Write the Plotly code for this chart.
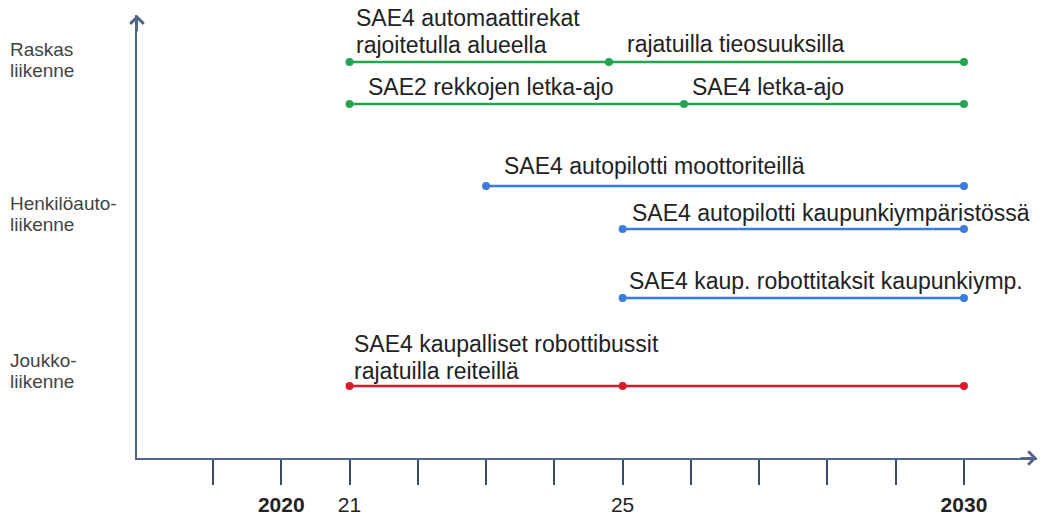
import plotly.graph_objects as go

# ---- axis ticks ----
tick_years = list(range(2019, 2031))
tick_text = ["", "<b>2020</b>", "21", "", "", "", "25", "", "", "", "", "<b>2030</b>"]

# ---- groups on the left ----
group_labels = ["Raskas<br>liikenne", "Henkilöauto-<br>liikenne", "Joukko-<br>liikenne"]
group_y = [409, 255, 98]

# ---- timeline rows (milestone years) ----
row_years = [
    [2021, 2024.8, 2030],
    [2021, 2025.9, 2030],
    [2023, 2030],
    [2025, 2030],
    [2025, 2030],
    [2021, 2025, 2030],
]
row_y = [396, 354, 272, 229, 160, 72]
row_colors = ["#25a552", "#25a552", "#3a7ddf", "#3a7ddf", "#3a7ddf", "#dc1a2c"]

# ---- milestone labels ----
label_text = [
    "SAE4 automaattirekat<br>rajoitetulla alueella",
    "rajatuilla tieosuuksilla",
    "SAE2 rekkojen letka-ajo",
    "SAE4 letka-ajo",
    "SAE4 autopilotti moottoriteillä",
    "SAE4 autopilotti kaupunkiympäristössä",
    "SAE4 kaup. robottitaksit kaupunkiymp.",
    "SAE4 kaupalliset robottibussit<br>rajatuilla reiteillä",
]
label_year = [2021, 2024.8, 2021, 2025.9, 2023, 2025, 2025, 2021]
label_row = [0, 0, 1, 1, 2, 3, 4, 5]
label_dx = [4, 16, 16, 6, 16, 7, 4, 2]
label_dy = [44, 18, 17, 17, 20, 16, 17, 42]

FONT = "Liberation Sans, Arial, sans-serif"
AXIS_COLOR = "#52668c"
LABEL_LS = 27   # line spacing of milestone labels (px)
GROUP_LS = 21   # line spacing of group labels (px)

W, H = 1043, 517
L, T, B, R = 137, 15, 59, 6
PLOT_W = W - L - R

fig = go.Figure()

for yrs, yv, col in zip(row_years, row_y, row_colors):
    fig.add_trace(go.Scatter(
        x=yrs, y=[yv] * len(yrs), mode="lines+markers",
        line=dict(color=col, width=2.5),
        marker=dict(color=col, size=8),
        cliponaxis=False, showlegend=False, hoverinfo="skip",
    ))

annotations = []
for txt, yr, r, dx, dy in zip(label_text, label_year, label_row, label_dx, label_dy):
    for i, line in enumerate(txt.split("<br>")):
        annotations.append(dict(
            x=yr, y=row_y[r], xref="x", yref="y", text=line, showarrow=False,
            xanchor="left", yanchor="middle", align="left",
            xshift=dx, yshift=dy - i * LABEL_LS,
            font=dict(family=FONT, size=23, color="#222222"),
        ))

for txt, gy in zip(group_labels, group_y):
    for i, line in enumerate(txt.split("<br>")):
        annotations.append(dict(
            x=(10 - L) / PLOT_W, y=gy, xref="paper", yref="y", text=line,
            showarrow=False, xanchor="left", yanchor="middle", align="left",
            yshift=-i * GROUP_LS, xshift=-2,
            font=dict(family=FONT, size=19, color="#444444"),
        ))

# axis arrows
annotations.append(dict(x=1, y=0, xref="paper", yref="paper", ax=-18, ay=0,
                        text="", showarrow=True, arrowhead=4, arrowsize=1.3,
                        arrowwidth=2, arrowcolor=AXIS_COLOR, standoff=0))
annotations.append(dict(x=0, y=1, xref="paper", yref="paper", ax=0, ay=18,
                        text="", showarrow=True, arrowhead=4, arrowsize=1.3,
                        arrowwidth=2, arrowcolor=AXIS_COLOR, standoff=0))

fig.update_layout(
    width=W, height=H,
    margin=dict(l=L, r=R, t=T, b=B, autoexpand=False),
    paper_bgcolor="white", plot_bgcolor="white",
    annotations=annotations,
    xaxis=dict(
        range=[2017.887, 2031.07], showgrid=False, zeroline=False,
        showline=True, linecolor=AXIS_COLOR, linewidth=2,
        ticks="outside", ticklen=25, tickwidth=2, tickcolor="#3d4a66",
        tickvals=tick_years, ticktext=tick_text, ticklabelstandoff=2,
        tickfont=dict(family=FONT, size=21, color="#222222"),
        fixedrange=True, automargin=False,
    ),
    yaxis=dict(
        range=[0, 443], showgrid=False, zeroline=False,
        showline=True, linecolor=AXIS_COLOR, linewidth=2,
        showticklabels=False, ticks="", fixedrange=True, automargin=False,
    ),
)

fig.write_html(
    "out.html",
    config={"displayModeBar": False},
    post_script="document.body.style.margin='0';"
                "document.documentElement.style.overflow='hidden';",
)
